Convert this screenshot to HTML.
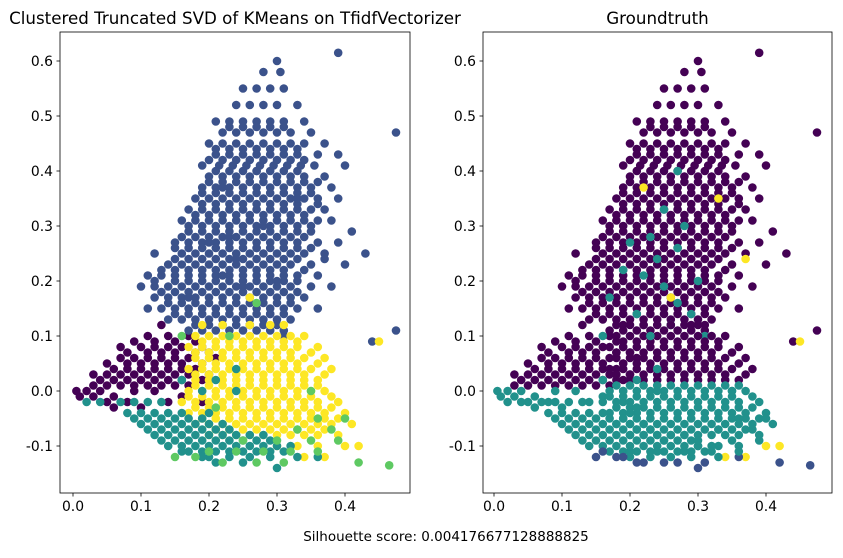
<!DOCTYPE html>
<html><head><meta charset="utf-8"><style>
html,body{margin:0;padding:0;background:#fff;}
svg text{font-family:"DejaVu Sans","Liberation Sans",sans-serif;fill:#000;}
</style></head><body>
<svg id="fig" width="843" height="553" viewBox="0 0 843 553" xmlns="http://www.w3.org/2000/svg">
<rect width="843" height="553" fill="#fff"/>
<text x="446" y="541" font-size="13.5" text-anchor="middle">Silhouette score: 0.004176677128888825</text>
</svg>
<script>
// tick labels
const xTicks = [0.0, 0.1, 0.2, 0.3, 0.4];
const yTicks = [-0.1, 0.0, 0.1, 0.2, 0.3, 0.4, 0.5, 0.6];
const kmColors = ["#440154", "#3b528b", "#21918c", "#5ec962", "#fde725"];
const gtColors = ["#440154", "#3b528b", "#21918c", "#fde725"];
// point groups: km = KMeans cluster, gt = ground-truth class, rows = [y, x1, x2, ...]
const purpleTrue0 = [[0.1,0.11,0.14,0.17],[0.12,0.13],[0.08,0.07,0.1,0.12,0.14,0.16,0.19],[0.06,0.07,0.09,0.11,0.13,0.15,0.17,0.21],[0.04,0.06,0.08,0.1,0.12,0.14,0.16,0.18],[0.02,0.04,0.06,0.08,0.1,0.12,0.14,0.16,0.19],[0.01,0.03,0.05,0.07,0.09,0.11,0.13,0.15,0.17]];
const purpleFill0 = [[0.09,0.09,0.12,0.15,0.18],[0.07,0.08,0.11,0.13,0.15,0.18,0.2],[0.05,0.05,0.08,0.1,0.12,0.14,0.16,0.19],[0.03,0.03,0.05,0.07,0.09,0.11,0.13,0.15,0.17,0.2]];
const purpleTrue2 = [[0.0,0.005,0.02,0.04,0.09,0.12],[-0.01,0.01,0.03,0.06,0.16],[-0.02,0.05,0.08,0.14,0.19],[-0.03,0.1,0.06]];
const blueTrue0 = [[0.6,0.3],[0.615,0.39],[0.58,0.28,0.305],[0.55,0.25,0.27,0.29,0.31],[0.52,0.24,0.26,0.28,0.3,0.33],[0.49,0.21,0.23,0.25,0.27,0.29,0.31,0.34],[0.47,0.22,0.24,0.26,0.28,0.3,0.32,0.35,0.475],[0.45,0.2,0.22,0.24,0.26,0.28,0.3,0.32,0.34,0.37],[0.43,0.21,0.23,0.25,0.27,0.29,0.31,0.33,0.36,0.39],[0.41,0.19,0.215,0.235,0.255,0.275,0.295,0.315,0.335,0.355,0.4],[0.39,0.2,0.22,0.24,0.26,0.28,0.3,0.32,0.34,0.37],[0.37,0.19,0.21,0.23,0.25,0.27,0.29,0.31,0.33,0.35,0.38],[0.35,0.18,0.2,0.22,0.24,0.26,0.28,0.3,0.32,0.34,0.36,0.39],[0.33,0.17,0.19,0.21,0.23,0.25,0.27,0.29,0.31,0.33,0.35,0.37],[0.31,0.16,0.18,0.2,0.22,0.24,0.26,0.28,0.3,0.32,0.34,0.36,0.38],[0.29,0.17,0.19,0.21,0.23,0.25,0.27,0.29,0.31,0.33,0.35,0.41],[0.27,0.15,0.17,0.19,0.21,0.23,0.25,0.27,0.29,0.31,0.33,0.36,0.39],[0.25,0.12,0.16,0.18,0.2,0.22,0.24,0.26,0.28,0.3,0.32,0.34,0.37,0.43],[0.23,0.14,0.16,0.18,0.2,0.22,0.24,0.26,0.28,0.3,0.32,0.35,0.4],[0.21,0.11,0.13,0.15,0.17,0.19,0.21,0.23,0.25,0.27,0.29,0.31,0.33,0.36],[0.19,0.1,0.12,0.14,0.16,0.18,0.2,0.22,0.24,0.26,0.28,0.3,0.32,0.35,0.38],[0.17,0.12,0.14,0.16,0.18,0.2,0.22,0.24,0.26,0.28,0.3,0.32,0.34],[0.15,0.11,0.13,0.15,0.17,0.19,0.21,0.23,0.25,0.27,0.29,0.31,0.33,0.36],[0.13,0.14,0.16,0.18,0.2,0.22,0.24,0.26,0.28,0.3,0.32],[0.11,0.17,0.19,0.21,0.23,0.25,0.27,0.29,0.31,0.475],[0.09,0.44]];
const blueFill0 = [[0.48,0.23,0.25,0.27,0.29,0.31],[0.44,0.21,0.23,0.25,0.27,0.29,0.31,0.33],[0.42,0.2,0.22,0.24,0.26,0.28,0.3,0.32,0.34],[0.4,0.21,0.23,0.25,0.27,0.29,0.31,0.33],[0.38,0.2,0.22,0.24,0.26,0.28,0.3,0.32,0.34,0.36],[0.36,0.19,0.21,0.23,0.25,0.27,0.29,0.31,0.33,0.35],[0.34,0.19,0.21,0.23,0.25,0.27,0.29,0.31,0.33,0.36],[0.32,0.18,0.2,0.22,0.24,0.26,0.28,0.3,0.32,0.34],[0.3,0.17,0.19,0.21,0.23,0.25,0.27,0.29,0.31,0.33,0.35],[0.28,0.16,0.18,0.2,0.22,0.24,0.26,0.28,0.3,0.32,0.34],[0.26,0.15,0.17,0.19,0.21,0.23,0.25,0.27,0.29,0.31,0.33,0.35],[0.24,0.15,0.17,0.19,0.21,0.23,0.25,0.27,0.29,0.31,0.33],[0.22,0.13,0.15,0.17,0.19,0.21,0.23,0.25,0.27,0.29,0.31,0.34],[0.2,0.12,0.15,0.17,0.19,0.21,0.23,0.25,0.27,0.29,0.31,0.33],[0.18,0.13,0.15,0.17,0.19,0.21,0.23,0.25,0.27,0.29,0.31,0.33],[0.16,0.14,0.16,0.18,0.2,0.22,0.24,0.26,0.28,0.3,0.32],[0.14,0.15,0.17,0.19,0.21,0.23,0.25,0.27,0.29,0.31],[0.12,0.18,0.2,0.22,0.24,0.26,0.28,0.3]];
const blueTrue2 = [[0.4,0.27],[0.33,0.25],[0.3,0.28],[0.21,0.22],[0.19,0.25],[0.14,0.29],[0.27,0.2],[0.12,0.26],[0.2,0.3],[0.28,0.23],[0.22,0.19],[0.17,0.17],[0.14,0.21],[0.24,0.24],[0.1,0.31],[0.26,0.27]];
const blueTrue3 = [[0.35,0.33],[0.37,0.22],[0.24,0.37]];
const yellowTrue0 = [[0.12,0.19,0.22,0.26,0.29,0.31],[0.1,0.18,0.2,0.22,0.24,0.26,0.28,0.3,0.32,0.34],[0.08,0.17,0.19,0.21,0.23,0.25,0.27,0.29,0.31,0.33,0.36],[0.06,0.18,0.2,0.22,0.24,0.26,0.28,0.3,0.32,0.34,0.37],[0.04,0.17,0.19,0.21,0.23,0.25,0.27,0.29,0.31,0.33,0.35,0.38],[0.02,0.18,0.2,0.22,0.24,0.26,0.28,0.3,0.32,0.34,0.36]];
const yellowFill0 = [[0.09,0.19,0.21,0.23,0.25,0.27,0.29,0.31,0.33],[0.07,0.18,0.2,0.22,0.24,0.26,0.28,0.3,0.32,0.35],[0.05,0.19,0.21,0.23,0.25,0.27,0.29,0.31,0.33,0.36],[0.03,0.18,0.2,0.22,0.24,0.26,0.28,0.3,0.32,0.34,0.37]];
const yellowTrue2 = [[0.0,0.17,0.19,0.21,0.23,0.25,0.27,0.29,0.31,0.33,0.35,0.37],[-0.02,0.16,0.18,0.2,0.22,0.24,0.26,0.28,0.3,0.32,0.34,0.36,0.39],[-0.04,0.17,0.19,0.21,0.23,0.25,0.27,0.29,0.31,0.33,0.35,0.37,0.4],[-0.06,0.18,0.2,0.22,0.24,0.26,0.28,0.3,0.32,0.34,0.36,0.38,0.41],[-0.08,0.2,0.22,0.24,0.26,0.28,0.3,0.32,0.34,0.36,0.39],[-0.1,0.3,0.33,0.36]];
const yellowFill2 = [[0.01,0.18,0.2,0.22,0.24,0.26,0.28,0.3,0.32,0.34,0.36],[-0.01,0.17,0.19,0.21,0.23,0.25,0.27,0.29,0.31,0.33,0.35,0.38],[-0.03,0.18,0.2,0.22,0.24,0.26,0.28,0.3,0.32,0.34,0.36,0.38],[-0.05,0.19,0.21,0.23,0.25,0.27,0.29,0.31,0.33,0.35,0.37,0.39],[-0.07,0.21,0.23,0.25,0.27,0.29,0.31,0.33,0.35,0.37]];
const yellowTrue3 = [[0.09,0.45],[-0.1,0.4,0.42],[-0.12,0.34,0.37],[0.17,0.26]];
const tealTrue2 = [[-0.04,0.08,0.1,0.12,0.14,0.16,0.2],[-0.06,0.1,0.12,0.14,0.16,0.18,0.2,0.22],[-0.08,0.12,0.14,0.16,0.18,0.2,0.22,0.24,0.26,0.28],[-0.1,0.14,0.16,0.18,0.2,0.22,0.24,0.26,0.28,0.3,0.32],[-0.12,0.2,0.23,0.26,0.29,0.33],[0.02,0.16,0.21],[0.0,0.19,0.24],[0.04,0.24]];
const tealFill2 = [[-0.05,0.09,0.11,0.13,0.15,0.17,0.19],[-0.07,0.11,0.13,0.15,0.17,0.19,0.21,0.23],[-0.09,0.13,0.15,0.17,0.19,0.21,0.23,0.25,0.27,0.29],[-0.11,0.17,0.19,0.21,0.23,0.25,0.27,0.29,0.31],[-0.02,0.02,0.04,0.07,0.09,0.11,0.13]];
const tealTrue1 = [[-0.11,0.16],[-0.12,0.19],[-0.13,0.21,0.25],[-0.14,0.3],[-0.12,0.36]];
const greenTrue2 = [[-0.05,0.36,0.4],[-0.07,0.33,0.38],[-0.09,0.25,0.3,0.35,0.39],[-0.11,0.2,0.24,0.28,0.32,0.36],[0.16,0.27],[0.1,0.16,0.23],[0.0,0.35],[-0.03,0.21]];
const greenTrue1 = [[-0.13,0.22,0.27,0.31,0.42],[-0.135,0.465],[-0.12,0.15,0.18]];
const groups = [
  {km:0, gt:0, rows:purpleTrue0},{km:0, gt:0, rows:purpleFill0},{km:0, gt:2, rows:purpleTrue2},
  {km:1, gt:0, rows:blueTrue0},{km:1, gt:0, rows:blueFill0},{km:1, gt:2, rows:blueTrue2},{km:1, gt:3, rows:blueTrue3},
  {km:4, gt:0, rows:yellowTrue0},{km:4, gt:0, rows:yellowFill0},{km:4, gt:2, rows:yellowTrue2},{km:4, gt:2, rows:yellowFill2},{km:4, gt:3, rows:yellowTrue3},
  {km:2, gt:2, rows:tealTrue2},{km:2, gt:2, rows:tealFill2},{km:2, gt:1, rows:tealTrue1},
  {km:3, gt:2, rows:greenTrue2},{km:3, gt:1, rows:greenTrue1}
];

const NS = "http://www.w3.org/2000/svg";
const svg = document.getElementById("fig");
function mk(tag, attrs, parent){ const e=document.createElementNS(NS,tag); for(const k in attrs) e.setAttribute(k,attrs[k]); (parent||svg).appendChild(e); return e; }

const panels = [
  {name:"kmeans", title:"Clustered Truncated SVD of KMeans on TfidfVectorizer", left:60, right:410, x0:73, colors:kmColors, key:"km"},
  {name:"groundtruth", title:"Groundtruth", left:483, right:832, x0:494, colors:gtColors, key:"gt"}
];
const axTop=32, axBottom=493, xScale=680, yScale=550, yZero=391;

panels.forEach(p=>{
  const g = mk("g",{});
  
  
  const X = v => p.x0 + v*xScale;
  const Y = v => yZero - v*yScale;
  const clip = mk("clipPath",{id:"clip-"+p.name}, g);
  mk("rect",{x:p.left,y:axTop,width:p.right-p.left,height:axBottom-axTop}, clip);
  const pts = mk("g",{"clip-path":"url(#clip-"+p.name+")"}, g);
  
  
  groups.forEach(gr=>{
    const col = p.colors[gr[p.key]];
    gr.rows.forEach(row=>{
      for(let i=1;i<row.length;i++){
        const c = mk("circle",{cx:X(row[i]).toFixed(1),cy:Y(row[0]).toFixed(1),r:4.3,fill:col}, pts);
        
        
      }
    });
  });
  const frame = mk("rect",{x:p.left,y:axTop,width:p.right-p.left,height:axBottom-axTop,fill:"none",stroke:"#000","stroke-width":0.8}, g);
  
  
  xTicks.forEach(t=>{
    const x=X(t);
    mk("line",{x1:x,x2:x,y1:axBottom,y2:axBottom+3.5,stroke:"#000","stroke-width":0.8}, g);
    const tx = mk("text",{x:x,y:axBottom+18,"font-size":13.9,"text-anchor":"middle"}, g);
    tx.textContent = t.toFixed(1);
    
    
  });
  yTicks.forEach(t=>{
    const y=Y(t);
    mk("line",{x1:p.left-3.5,x2:p.left,y1:y,y2:y,stroke:"#000","stroke-width":0.8}, g);
    const ty = mk("text",{x:p.left-7,y:y+5,"font-size":13.9,"text-anchor":"end"}, g);
    ty.textContent = t.toFixed(1);
    
    
  });
  const tt = mk("text",{x:(p.left+p.right)/2,y:axTop-8,"font-size":16.7,"text-anchor":"middle"}, g);
  tt.textContent = p.title;
  
  
});
</script>
</body></html>
